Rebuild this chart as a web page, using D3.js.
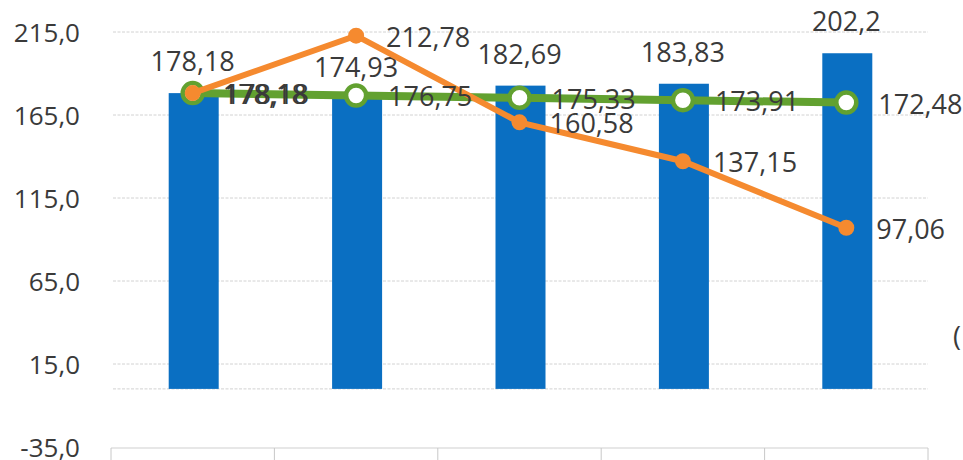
<!DOCTYPE html>
<html>
<head>
<meta charset="utf-8">
<script src="https://cdn.jsdelivr.net/npm/d3@7"></script>
<style>
  html, body { margin: 0; padding: 0; background: #fff; }
  text { font-family: "Open Sans", sans-serif; fill: #3a3a3a; }
</style>
</head>
<body>
<svg id="chart"></svg>
<script>
// data
const categories = ['2019', '2020', '2021', '2022', '2023'];  // cut off in the picture, guessed
const barValues = [178.18, 174.93, 182.69, 183.83, 202.2];
const orangeValues = [178.18, 212.78, 160.58, 137.15, 97.06];
const greenValues = [178.18, 176.75, 175.33, 173.91, 172.48];
const yTicks = [-35, 15, 65, 115, 165, 215];

let w = 963;
let h = 460;

const svg = d3.select('#chart')
  .attr('width', w)
  .attr('height', h)

svg.append('rect')
  .attr('width', w)
  .attr('height', h)
  .attr('fill', '#fff')

const x = d3.scaleBand()
  .domain(categories)
  .range([111, 928])

const y = d3.scaleLinear()
  .domain([-35, 215])
  .range([447, 32])

const fmt = v => String(v).replace('.', ',')
const cx = d => x(d) + x.bandwidth() / 2

// gridlines (also the zero line)
svg.append('g')
  .selectAll('line')
  .data(yTicks.filter(t => t > -35).concat([0]))
  .enter()
  .append('line')
  .attr('x1', 113)
  .attr('x2', 928)
  .attr('y1', d => y(d))
  .attr('y2', d => y(d))
  .attr('stroke', '#d2d2d2')
  .attr('stroke-width', 1)
  .attr('stroke-dasharray', '3,1.5')

// y axis labels
const yAxis = d3.axisLeft(y)
  .tickValues(yTicks)
  .tickFormat(d => d.toFixed(1).replace('.', ','))
  .tickSize(0)
  .tickPadding(0)

svg.append('g')
  .attr('transform', 'translate(80,0)')
  .call(yAxis)
  .call(g => g.select('.domain').remove())
  .selectAll('text')
  .style('font-size', '26px')
  .attr('fill', '#3a3a3a')
  .attr('dy', '0.36em')

// category table at the bottom
const table = svg.append('g')
table.append('line')
  .attr('x1', x.range()[0]).attr('x2', x.range()[1])
  .attr('y1', y(-35) + 1).attr('y2', y(-35) + 1)
  .attr('stroke', '#cfcfcf')
table.selectAll('line.v')
  .data(categories.concat(['end']))
  .enter()
  .append('line')
  .attr('class', 'v')
  .attr('x1', (d, i) => x.range()[0] + i * x.bandwidth())
  .attr('x2', (d, i) => x.range()[0] + i * x.bandwidth())
  .attr('y1', y(-35) + 1)
  .attr('y2', h)
  .attr('stroke', '#c8c8c8')
table.selectAll('text')
  .data(categories)
  .enter()
  .append('text')
  .attr('x', cx)
  .attr('y', 479)
  .attr('text-anchor', 'middle')
  .style('font-size', '26px')
  .attr('fill-opacity', 0.5)
  .text(d => d)

// bars
const barW = 50;
svg.append('g')
  .selectAll('rect')
  .data(barValues)
  .enter()
  .append('rect')
  .attr('x', (d, i) => cx(categories[i]) - barW / 2 + 1)
  .attr('width', barW)
  .attr('y', d => y(d))
  .attr('height', d => y(0) - y(d))
  .attr('fill', '#0a6fc2')

svg.append('g')
  .selectAll('text')
  .data(barValues)
  .enter()
  .append('text')
  .attr('x', (d, i) => cx(categories[i]))
  .attr('y', d => y(d) - 22)
  .attr('text-anchor', 'middle')
  .style('font-size', '27px')
  .text(fmt)

const line = d3.line()
  .x((d, i) => cx(categories[i]))
  .y(d => y(d))

// green series
svg.append('path')
  .datum(greenValues)
  .attr('d', line)
  .attr('fill', 'none')
  .attr('stroke', '#62a130')
  .attr('stroke-width', 8)

svg.append('g')
  .selectAll('circle')
  .data(greenValues)
  .enter()
  .append('circle')
  .attr('cx', (d, i) => cx(categories[i]))
  .attr('cy', d => y(d))
  .attr('r', 10)
  .attr('fill', '#fff')
  .attr('stroke', '#62a130')
  .attr('stroke-width', 4.5)

// orange series
svg.append('path')
  .datum(orangeValues)
  .attr('d', line)
  .attr('fill', 'none')
  .attr('stroke', '#f58a2f')
  .attr('stroke-width', 6)

svg.append('g')
  .selectAll('circle')
  .data(orangeValues)
  .enter()
  .append('circle')
  .attr('cx', (d, i) => cx(categories[i]))
  .attr('cy', d => y(d))
  .attr('r', 8)
  .attr('fill', '#f58a2f')

// point labels, to the right of each marker
svg.append('g')
  .selectAll('text')
  .data(greenValues)
  .enter()
  .append('text')
  .attr('x', (d, i) => cx(categories[i]) + 32)
  .attr('y', d => y(d) + 11)
  .style('font-size', '27px')
  .text(fmt)

svg.append('g')
  .selectAll('text')
  .data(orangeValues)
  .enter()
  .append('text')
  .attr('x', (d, i) => cx(categories[i]) + 30)
  .attr('y', d => y(d) + 11)
  .style('font-size', '27px')
  .text(fmt)

// fragment of something cut off at the right edge
svg.append('text')
  .attr('x', 953)
  .attr('y', 346)
  .style('font-size', '27px')
  .text('(')
</script>
</body>
</html>
